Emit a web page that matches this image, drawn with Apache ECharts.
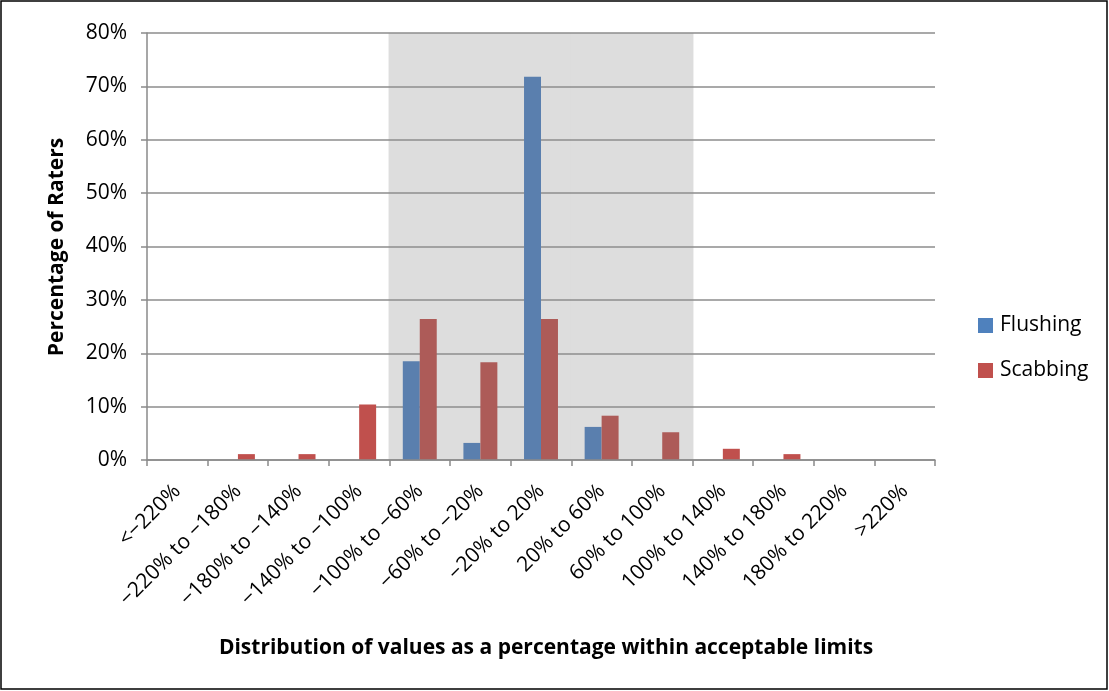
<!DOCTYPE html>
<html>
<head>
<meta charset="utf-8">
<script src="https://cdn.jsdelivr.net/npm/echarts@6/dist/echarts.min.js"></script>
<style>
html,body{margin:0;padding:0;background:#fff;}
#chart{width:1109px;height:691px;}
</style>
</head>
<body>
<div id="chart"></div>
<script>
const categories = ['<\u2212220%', '\u2212220% to \u2212180%', '\u2212180% to \u2212140%', '\u2212140% to \u2212100%', '\u2212100% to \u221260%', '\u221260% to \u221220%', '\u221220% to 20%', '20% to 60%', '60% to 100%', '100% to 140%', '140% to 180%', '180% to 220%', '>220%'];
const flushing = [0, 0, 0, 0, 18.5, 3.2, 71.8, 6.2, 0, 0, 0, 0, 0];
const scabbing = [0, 1.1, 1.1, 10.4, 26.4, 18.3, 26.4, 8.3, 5.2, 2.1, 1.1, 0, 0];
const acceptableBand = [0, 0, 0, 0, 80, 80, 80, 80, 80, 0, 0, 0, 0];
const yTicks = [0, 10, 20, 30, 40, 50, 60, 70, 80];

const FONT = '"Open Sans", "Noto Sans", sans-serif';
const inBand = i => acceptableBand[i] > 0;

const chart = echarts.init(document.getElementById('chart'), null, {renderer: 'canvas'});
chart.setOption({
  animation: false,
  backgroundColor: '#ffffff',
  color: ['#4f81bd', '#c0504d'],
  textStyle: {fontFamily: FONT},
  title: [
    {text: 'Distribution of values as a percentage within acceptable limits', left: 541, top: 633,
     textAlign: 'center', textStyle: {fontSize: 21, fontWeight: 'bold', color: '#000', fontFamily: FONT}}
  ],
  graphic: [
    {type: 'rect', shape: {x: 1, y: 1, width: 1106, height: 688}, style: {fill: 'none', stroke: '#000', lineWidth: 1.5}, silent: true},
    {type: 'text', x: 57, y: 247, rotation: Math.PI / 2, silent: true,
     style: {text: 'Percentage of Raters', fontSize: 21, fontWeight: 'bold', fill: '#000', fontFamily: FONT,
             align: 'center', verticalAlign: 'middle'}}
  ],
  legend: {
    orient: 'vertical', left: 973, top: 310, itemGap: 24, itemWidth: 15, itemHeight: 15,
    icon: 'rect', data: ['Flushing', 'Scabbing'],
    textStyle: {fontSize: 21, color: '#000', fontFamily: FONT, padding: [0, 0, 0, 2]}
  },
  grid: {left: 147, right: 174, top: 33, bottom: 231, containLabel: false},
  xAxis: [
    {type: 'category', data: categories, z: 3,
     axisLine: {lineStyle: {color: '#8a8a8a', width: 1.5}},
     axisTick: {show: true, alignWithLabel: false, length: 6, lineStyle: {color: '#8a8a8a', width: 1.5}},
     axisLabel: {rotate: 45, interval: 0, fontSize: 21, color: '#000', margin: 28, fontFamily: FONT}},
    {type: 'category', data: categories, show: false}
  ],
  yAxis: {
    type: 'value', min: 0, max: 80, interval: 10, z: 1,
    axisLine: {show: true, lineStyle: {color: '#8a8a8a', width: 1.5}},
    axisTick: {show: true, length: 6, lineStyle: {color: '#8a8a8a', width: 1.5}},
    axisLabel: {fontSize: 21, color: '#000', margin: 20, fontFamily: FONT,
      formatter: v => yTicks.includes(v) ? v + '%' : ''},
    splitLine: {show: true, lineStyle: {color: '#8c8c8c', width: 1.5}}
  },
  series: [
    {name: 'band', type: 'bar', xAxisIndex: 1, data: acceptableBand, barWidth: '103%', z: 0, silent: true,
     itemStyle: {color: '#dddddd'}, legendHoverLink: false},
    {name: 'Flushing', type: 'bar', data: flushing, barGap: '0%', barCategoryGap: '44%', z: 2,
     itemStyle: {color: p => inBand(p.dataIndex) ? '#5a7fae' : '#4f81bd'}},
    {name: 'Scabbing', type: 'bar', data: scabbing, z: 2,
     itemStyle: {color: p => inBand(p.dataIndex) ? '#ad5b58' : '#c0504d'}}
  ]
});
</script>
</body>
</html>
